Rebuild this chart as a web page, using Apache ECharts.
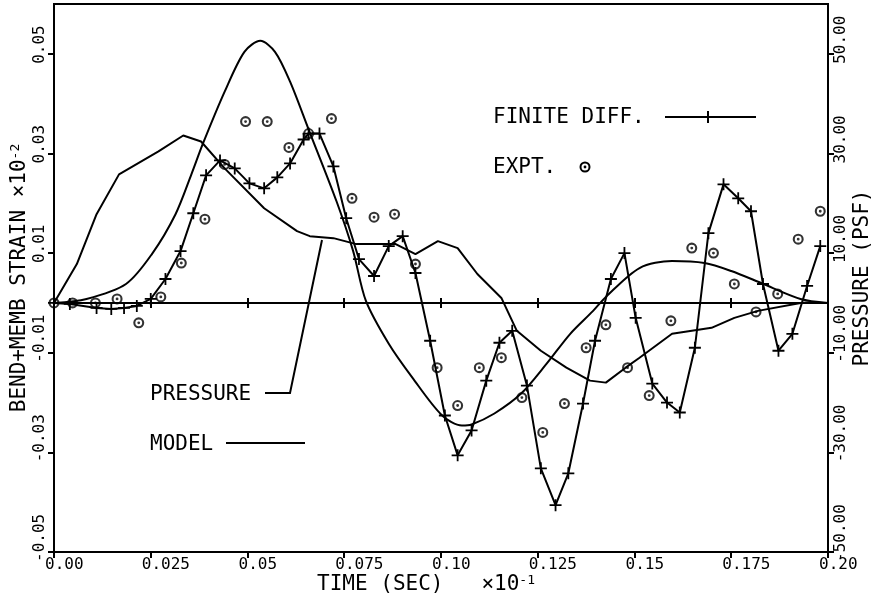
<!DOCTYPE html>
<html>
<head>
<meta charset="utf-8">
<script src="https://cdn.jsdelivr.net/npm/echarts@6/dist/echarts.min.js"></script>
<style>
html, body { margin: 0; padding: 0; background: #fff; }
#chart { width: 881px; height: 600px; }
</style>
</head>
<body>
<div id="chart"></div>
<script>
// tick labels
var xTickLabels = ['0.00', '0.025', '0.05', '0.075', '0.10', '0.125', '0.15', '0.175', '0.20'];
var strainTicks = [-0.05, -0.03, -0.01, 0.01, 0.03, 0.05];
var pressureTicks = [-50, -30, -10, 10, 30, 50];

// model (strain)
var modelTime = [0, 0.0084, 0.0186, 0.0253, 0.0314, 0.0355, 0.0385, 0.0441, 0.0492, 0.0533, 0.0571, 0.0610, 0.0658, 0.0730, 0.0773, 0.0806, 0.0865, 0.0926, 0.1003, 0.1054, 0.1079, 0.1138, 0.1207, 0.1273, 0.1334, 0.1393, 0.1426, 0.1513, 0.1597, 0.1681, 0.1750, 0.1827, 0.1929, 0.2];
var modelStrain = [0, 0.0008, 0.0038, 0.0098, 0.0178, 0.0258, 0.032, 0.0424, 0.0504, 0.0526, 0.0504, 0.0444, 0.0348, 0.0204, 0.0104, 0.0004, -0.0082, -0.015, -0.0226, -0.0246, -0.0244, -0.0222, -0.0182, -0.0122, -0.0062, -0.0016, 0.0012, 0.007, 0.0084, 0.008, 0.0064, 0.004, 0.0008, 0];

// pressure (psf, right axis)
var pressTime = [0, 0.0059, 0.0110, 0.0168, 0.0270, 0.0334, 0.0380, 0.0441, 0.0543, 0.0628, 0.0661, 0.0722, 0.0781, 0.0883, 0.0934, 0.0992, 0.1043, 0.1094, 0.1156, 0.1196, 0.1258, 0.1324, 0.1385, 0.1426, 0.1477, 0.1513, 0.1597, 0.1699, 0.1758, 0.1819, 0.1929, 0.1967];
var pressVal = [0, 7.8, 17.8, 25.8, 30.4, 33.6, 32.4, 27, 19, 14.4, 13.4, 13, 11.8, 11.8, 9.8, 12.4, 11, 5.8, 1, -5.6, -9.6, -13, -15.6, -16, -13, -11, -6.2, -5, -3, -1.6, 0, 0.2];

// finite difference (strain)
var fdTime = [0, 0.0041, 0.0110, 0.0148, 0.0181, 0.0214, 0.0250, 0.0288, 0.0327, 0.0360, 0.0393, 0.0429, 0.0467, 0.0505, 0.0543, 0.0577, 0.0610, 0.0645, 0.0658, 0.0686, 0.0722, 0.0755, 0.0788, 0.0827, 0.0865, 0.0901, 0.0934, 0.0972, 0.1010, 0.1043, 0.1079, 0.1117, 0.1151, 0.1184, 0.1222, 0.1258, 0.1296, 0.1329, 0.1367, 0.1398, 0.1439, 0.1474, 0.1503, 0.1546, 0.1584, 0.1617, 0.1656, 0.1691, 0.1730, 0.1768, 0.1801, 0.1832, 0.1872, 0.1908, 0.1946, 0.1980];
var fdStrain = [0, -0.0002, -0.001, -0.0012, -0.001, -0.0006, 0.0008, 0.0048, 0.0104, 0.018, 0.0256, 0.0286, 0.027, 0.024, 0.023, 0.0252, 0.028, 0.0328, 0.034, 0.034, 0.0274, 0.017, 0.0088, 0.0054, 0.0114, 0.0134, 0.006, -0.0076, -0.0226, -0.0306, -0.0256, -0.0156, -0.008, -0.0056, -0.0166, -0.0332, -0.0406, -0.0342, -0.0202, -0.0076, 0.0048, 0.010, -0.003, -0.0162, -0.020, -0.022, -0.009, 0.014, 0.0238, 0.021, 0.0184, 0.0038, -0.0096, -0.0062, 0.0034, 0.0114];

// experiment (strain)
var exptTime = [0, 0.0048, 0.0107, 0.0163, 0.0219, 0.0276, 0.0329, 0.0390, 0.0441, 0.0495, 0.0551, 0.0607, 0.0658, 0.0717, 0.0770, 0.0827, 0.0880, 0.0934, 0.0990, 0.1043, 0.1099, 0.1156, 0.1209, 0.1263, 0.1319, 0.1375, 0.1426, 0.1482, 0.1538, 0.1594, 0.1648, 0.1704, 0.1758, 0.1814, 0.1870, 0.1923, 0.1980];
var exptStrain = [0, 0, 0, 0.0008, -0.004, 0.0012, 0.008, 0.0168, 0.0278, 0.0364, 0.0364, 0.0312, 0.034, 0.037, 0.021, 0.0172, 0.0178, 0.0078, -0.013, -0.0206, -0.013, -0.011, -0.019, -0.026, -0.0202, -0.009, -0.0044, -0.013, -0.0186, -0.0036, 0.011, 0.010, 0.0038, -0.0018, 0.0018, 0.0128, 0.0184];

function zip(a, b) {
	return a.map(function (v, i) { return [v, b[i]]; });
}

var FONT = '"DejaVu Sans Mono", monospace';
var plusSymbol = 'path://M-1.5,-10L1.5,-10L1.5,10L-1.5,10Z M-10,-1.5L10,-1.5L10,1.5L-10,1.5Z';
var dotCircleSymbol = 'path://M0,-10A10,10,0,1,1,0,10A10,10,0,1,1,0,-10Z M0,-6.2A6.2,6.2,0,1,0,0,6.2A6.2,6.2,0,1,0,0,-6.2Z M0,-2.6A2.6,2.6,0,1,1,0,2.6A2.6,2.6,0,1,1,0,-2.6Z';

var chart = echarts.init(document.getElementById('chart'));

var zeroAxis = function (inside) {
	return {
		type: 'value',
		min: 0,
		max: 0.2,
		interval: 0.025,
		position: 'bottom',
		axisLine: { onZero: true, onZeroAxisIndex: 0, lineStyle: { color: '#000', width: 2 } },
		axisTick: { show: true, inside: inside, length: 5, lineStyle: { color: '#000', width: 2 } },
		axisLabel: { show: false },
		splitLine: { show: false }
	};
};

var option = {
	animation: false,
	backgroundColor: '#fff',
	grid: {
		left: 54, right: 43, top: 4, bottom: 48,
		show: true, borderColor: '#000', borderWidth: 2
	},
	xAxis: [{
		type: 'value',
		min: 0,
		max: 0.2,
		interval: 0.025,
		position: 'bottom',
		name: 'TIME (SEC)   ×10{sup|-1}',
		nameLocation: 'middle',
		nameGap: 22,
		nameMoveOverlap: false,
		nameTextStyle: {
			color: '#000', fontFamily: FONT, fontSize: 21, verticalAlign: 'top',
			padding: [0, 30, 0, 0],
			rich: { sup: { fontFamily: FONT, fontSize: 13, verticalAlign: 'top', color: '#000' } }
		},
		axisLine: { onZero: false, lineStyle: { color: '#000', width: 2 } },
		axisTick: { show: true, length: 6, lineStyle: { color: '#000', width: 2 } },
		axisLabel: {
			color: '#000', fontFamily: FONT, fontSize: 16, margin: 5,
			align: 'left', padding: [0, 0, 0, -9],
			showMinLabel: true, showMaxLabel: true,
			formatter: function (v) { return xTickLabels[Math.round(v / 0.025)]; }
		},
		splitLine: { show: false }
	}, zeroAxis(true), zeroAxis(false)],
	yAxis: [{
		type: 'value',
		min: -0.05,
		max: 0.06,
		position: 'left',
		name: 'BEND+MEMB STRAIN ×10{sup|-2}',
		nameLocation: 'middle',
		nameRotate: 90,
		nameGap: 24,
		nameMoveOverlap: false,
		nameTextStyle: {
			color: '#000', fontFamily: FONT, fontSize: 21,
			rich: { sup: { fontFamily: FONT, fontSize: 13, verticalAlign: 'top', color: '#000' } }
		},
		axisLine: { onZero: false, lineStyle: { color: '#000', width: 2 } },
		axisTick: { show: true, length: 6, customValues: strainTicks, lineStyle: { color: '#000', width: 2 } },
		axisLabel: {
			color: '#000', fontFamily: FONT, fontSize: 16, margin: 6, rotate: 90,
			align: 'left', padding: [0, 0, 0, -10],
			customValues: strainTicks,
			formatter: function (v) { return v.toFixed(2); }
		},
		splitLine: { show: false }
	}, {
		type: 'value',
		min: -50,
		max: 60,
		position: 'right',
		name: 'PRESSURE (PSF)',
		nameLocation: 'middle',
		nameRotate: 90,
		nameGap: 24,
		nameMoveOverlap: false,
		nameTextStyle: { color: '#000', fontFamily: FONT, fontSize: 21 },
		axisLine: { onZero: false, lineStyle: { color: '#000', width: 2 } },
		axisTick: { show: true, length: 6, customValues: pressureTicks, lineStyle: { color: '#000', width: 2 } },
		axisLabel: {
			color: '#000', fontFamily: FONT, fontSize: 16, margin: 5, rotate: 90,
			align: 'left', padding: [0, 0, 0, -10],
			customValues: pressureTicks,
			formatter: function (v) { return v.toFixed(2); }
		},
		splitLine: { show: false }
	}],
	series: [
		{
			name: 'MODEL',
			type: 'line',
			data: zip(modelTime, modelStrain),
			smooth: 0.3,
			showSymbol: false,
			lineStyle: { color: '#000', width: 2 },
			z: 3
		},
		{
			name: 'PRESSURE',
			type: 'line',
			yAxisIndex: 1,
			data: zip(pressTime, pressVal),
			showSymbol: false,
			lineStyle: { color: '#000', width: 2 },
			z: 3
		},
		{
			name: 'FINITE DIFF.',
			type: 'line',
			data: zip(fdTime, fdStrain),
			symbol: plusSymbol,
			symbolSize: 12,
			showAllSymbol: true,
			itemStyle: { color: '#000' },
			lineStyle: { color: '#000', width: 2 },
			z: 4
		},
		{
			name: 'EXPT.',
			type: 'scatter',
			data: zip(exptTime, exptStrain),
			symbol: dotCircleSymbol,
			symbolSize: 11,
			itemStyle: { color: '#000' },
			z: 5
		}
	],
	graphic: [
		{ type: 'text', x: 493, y: 118, style: { text: 'FINITE DIFF.', font: '21px ' + FONT, fill: '#000', verticalAlign: 'middle' } },
		{ type: 'line', shape: { x1: 665, y1: 117, x2: 756, y2: 117 }, style: { stroke: '#000', lineWidth: 2 } },
		{ type: 'line', shape: { x1: 708, y1: 111, x2: 708, y2: 123 }, style: { stroke: '#000', lineWidth: 2 } },
		{ type: 'text', x: 493, y: 168, style: { text: 'EXPT.', font: '21px ' + FONT, fill: '#000', verticalAlign: 'middle' } },
		{ type: 'circle', shape: { cx: 585, cy: 167, r: 4.5 }, style: { stroke: '#000', lineWidth: 2, fill: '#fff' } },
		{ type: 'circle', shape: { cx: 585, cy: 167, r: 1.4 }, style: { fill: '#000' } },
		{ type: 'text', x: 150, y: 395, style: { text: 'PRESSURE', font: '21px ' + FONT, fill: '#000', verticalAlign: 'middle' } },
		{ type: 'polyline', shape: { points: [[265, 393], [290, 393], [322, 240]] }, style: { stroke: '#000', lineWidth: 2, fill: null } },
		{ type: 'text', x: 150, y: 445, style: { text: 'MODEL', font: '21px ' + FONT, fill: '#000', verticalAlign: 'middle' } },
		{ type: 'line', shape: { x1: 226, y1: 443, x2: 305, y2: 443 }, style: { stroke: '#000', lineWidth: 2 } }
	]
};

chart.setOption(option);
</script>
</body>
</html>
